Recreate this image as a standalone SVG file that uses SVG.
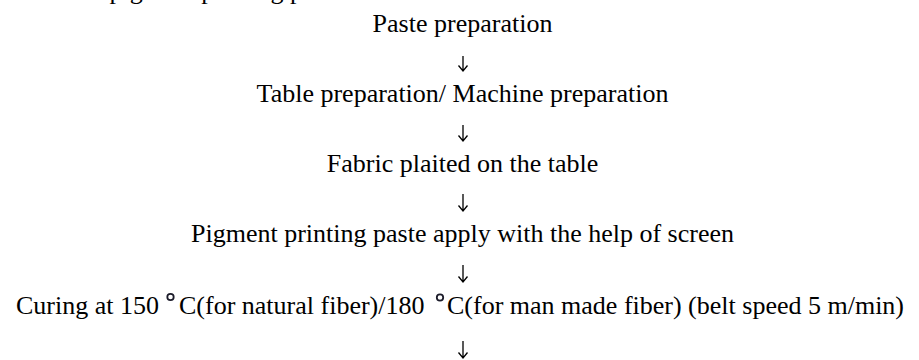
<svg xmlns="http://www.w3.org/2000/svg" width="919" height="360" viewBox="0 0 919 360">
  <style>
    .t { font-family: "Liberation Serif", "Times New Roman", serif; font-size: 26px; fill: #000; }
    .c { text-anchor: middle; }
    .arr { stroke: #000; stroke-width: 1.3; fill: none; }
    .deg { fill: #fff; stroke: #1c1c2a; stroke-width: 1.8; }
  </style>
  <rect width="919" height="360" fill="#fff"/>
  <g id="heading">
    <text class="t" x="-37" y="-1">Flow chart of pigment printing process:</text>
  </g>
  <g id="node-paste">
    <text class="t c" x="462.5" y="32">Paste preparation</text>
  </g>
  <g id="node-table">
    <text class="t c" x="462.5" y="102">Table preparation/ Machine preparation</text>
  </g>
  <g id="node-fabric">
    <text class="t c" x="462.5" y="172">Fabric plaited on the table</text>
  </g>
  <g id="node-pigment">
    <text class="t c" x="462.5" y="242">Pigment printing paste apply with the help of screen</text>
  </g>
  <g id="node-curing">
    <text class="t" y="314"><tspan x="16">Curing at 150</tspan><tspan x="179">C(for natural fiber)/180</tspan><tspan x="447">C(for man made fiber) (belt speed 5 m/min)</tspan></text>
    <circle class="deg" cx="170.5" cy="297" r="3.2"/>
    <circle class="deg" cx="440" cy="297.5" r="3.2"/>
  </g>
  <g id="connectors">
    <path class="arr" d="M463 56V71M458.5 65.5L463 71L467.5 65.5"/>
    <path class="arr" d="M463 125V141M458.5 135.5L463 141L467.5 135.5"/>
    <path class="arr" d="M463 194V211M458.5 205.5L463 211L467.5 205.5"/>
    <path class="arr" d="M463 265V282M458.5 276.5L463 282L467.5 276.5"/>
    <path class="arr" d="M463 341V358M458.5 352.5L463 358L467.5 352.5"/>
  </g>
</svg>
